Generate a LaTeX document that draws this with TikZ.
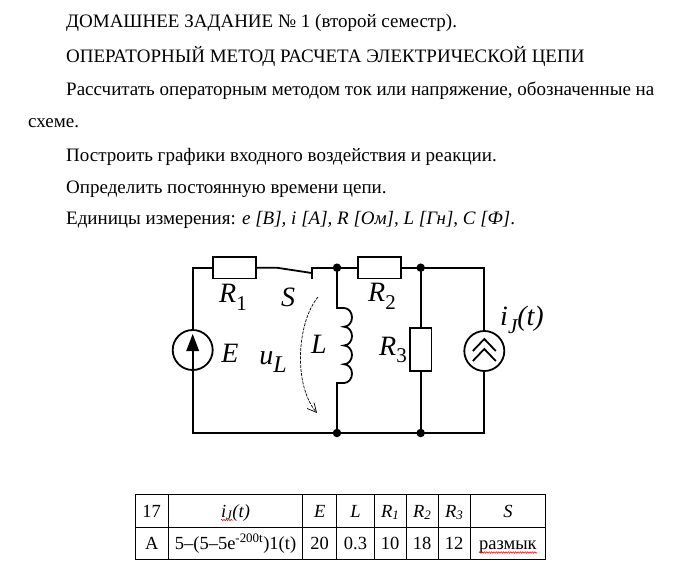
\documentclass[tikz,border=0pt]{standalone}
\usepackage{fontspec}
\setmainfont{Liberation Serif}
\usetikzlibrary{arrows.meta,decorations.pathmorphing}
\newcommand\lsub[1]{\raisebox{-0.28em}{\fontsize{21}{23}\selectfont #1}}
\begin{document}
\begin{tikzpicture}[x=1pt,y=-1pt,
  wire/.style={line width=1.8pt},
  res/.style={draw,line width=1.8pt,rectangle,inner sep=0pt,minimum width=43pt,minimum height=21.6pt,fill=white},
  vres/.style={res,minimum width=21.6pt,minimum height=43pt},
  src/.style={draw,line width=1.8pt,circle,minimum size=40pt,inner sep=0pt},
  dotn/.style={circle,fill=black,inner sep=0pt,minimum size=8.5pt},
  lbl/.style={font=\fontsize{28}{30}\selectfont\itshape,inner sep=0pt},
  txt/.style={font=\fontsize{19}{21}\selectfont,anchor=base west,inner sep=0pt},
  cell/.style={font=\fontsize{18.5}{20}\selectfont,inner sep=0pt,anchor=base},
  tline/.style={line width=0.9pt},
  wavy/.style={red,line width=0.5pt,decorate,decoration={snake,amplitude=0.8pt,segment length=2.4pt}},
  ularrow/.style={line width=0.7pt,dash pattern=on 3pt off 1.2pt,-{Straight Barb[length=9pt,width=9pt]}}
]
\useasboundingbox (0,0) rectangle (692,564);
\fill[white] (0,0) rectangle (692,564);

% text
\node[txt] (t1) at (66,28) {ДОМАШНЕЕ ЗАДАНИЕ № 1 (второй семестр).};
\node[txt] (t2) at (66,63) {ОПЕРАТОРНЫЙ МЕТОД РАСЧЕТА ЭЛЕКТРИЧЕСКОЙ ЦЕПИ};
\node[txt] (t3) at (66,96) {Рассчитать операторным методом ток или напряжение, обозначенные на};
\node[txt] (t4) at (28,128) {схеме.};
\node[txt] (t5) at (66,161) {Построить графики входного воздействия и реакции.};
\node[txt] (t6) at (66,193) {Определить постоянную времени цепи.};
\node[txt] (t7) at (66,224) {Единицы измерения: \textit{e [В], i [А], R [Ом], L [Гн], C [Ф]}.};

% circuit
\coordinate (TL) at (192.7,267.7);
\coordinate (BL) at (192.7,433);
\coordinate (TR) at (484.3,267.7);
\coordinate (BR) at (484.3,433);
\coordinate (swA) at (276.7,267.7);
\coordinate (swB) at (311.7,273);
\coordinate (swC) at (311.7,267.7);
\coordinate (swD) at (311.7,278.5);
\coordinate (Lt) at (337,308);
\coordinate (Lb) at (337,383);
\node[res] (R1) at (234.2,267.7) {};
\node[res] (R2) at (379.7,267.7) {};
\node[vres] (R3) at (420.7,349.7) {};
\node[src] (E) at (192.7,350) {};
\node[src] (J) at (484.3,351) {};
\node[dotn] (N1) at (337,267.7) {};
\node[dotn] (N2) at (420.7,267.7) {};
\node[dotn] (N3) at (337,433) {};
\node[dotn] (N4) at (420.7,433) {};

\draw[wire] (E.north) -- (TL) -- (R1.west);
\draw[wire] (R1.east) -- (swA) -- (swB);
\draw[wire] (swD) -- (swC) -- (N1.center) -- (R2.west);
\draw[wire] (R2.east) -- (N2.center) -- (TR) -- (J.north);
\draw[wire] (J.south) -- (BR) -- (N4.center) -- (N3.center) -- (BL) -- (E.south);
\draw[wire] (N2.center) -- (R3.north);
\draw[wire] (R3.south) -- (N4.center);
\draw[wire] (N1.center) -- (Lt) -- ++(7,0)
  arc[start angle=-90,end angle=90,x radius=8,y radius=9.375]
  arc[start angle=-90,end angle=90,x radius=8,y radius=9.375]
  arc[start angle=-90,end angle=90,x radius=8,y radius=9.375]
  arc[start angle=-90,end angle=90,x radius=8,y radius=9.375]
  -- (Lb) -- (N3.center);

\begin{scope}[shift={(E.center)}]
  \draw[wire] (0,20) -- (0,0);
  \fill (0,-16) -- (6.5,1) -- (-6.5,1) -- cycle;
\end{scope}
\begin{scope}[shift={(J.center)}]
  \draw[wire] (-11.5,0) -- (0,-12) -- (11.5,0);
  \draw[wire] (-11.5,10) -- (0,-2) -- (11.5,10);
\end{scope}

\coordinate (uA) at (318,297);
\coordinate (uB) at (317,413);
\draw[ularrow] (uA) .. controls (297,322) and (293,385) .. (uB);

\node[lbl] (lR1) at (233,297) {R\lsub{\upshape 1}};
\node[lbl] (lS) at (288,297) {S};
\node[lbl] (lE) at (230,353) {E};
\node[lbl] (lu) at (273,362) {u\raisebox{-0.3em}{\fontsize{24}{26}\selectfont L}};
\node[lbl] (lL) at (319,344) {L};
\node[lbl] (lR2) at (382,296) {R\lsub{\upshape 2}};
\node[lbl] (lR3) at (393,350) {R\lsub{\upshape 3}};
\node[lbl] (lJ) at (522,320) {i\lsub{J}(t)};

% table
\draw[tline] (135,494.7) rectangle (545.7,559);
\draw[tline] (135,527.3) -- (545.7,527.3);
\foreach \x in {168.3,302.7,336.7,374.3,406,438.3,470} \draw[tline] (\x,494.7) -- (\x,559);

\node[cell] (h1) at (151.7,517) {17};
\node[cell] (h2) at (235.5,517) {\itshape i\textsubscript{J}(t)};
\node[cell] (h3) at (319.7,517) {\itshape E};
\node[cell] (h4) at (355.5,517) {\itshape L};
\node[cell] (h5) at (390.2,517) {\itshape R\textsubscript{1}};
\node[cell] (h6) at (422.2,517) {\itshape R\textsubscript{2}};
\node[cell] (h7) at (454.2,517) {\itshape R\textsubscript{3}};
\node[cell] (h8) at (507.9,517) {\itshape S};
\node[cell] (v1) at (151.7,549) {A};
\node[cell] (v2) at (235.5,549) {5–(5–5e\textsuperscript{-200t})1(t)};
\node[cell] (v3) at (319.7,549) {20};
\node[cell] (v4) at (355.5,549) {0.3};
\node[cell] (v5) at (390.2,549) {10};
\node[cell] (v6) at (422.2,549) {18};
\node[cell] (v7) at (454.2,549) {12};
\node[cell] (v8) at (507.9,549) {размык};
\draw[wavy] ([yshift=-3pt]h2.base west) -- ++(12,0);
\draw[wavy] ([yshift=-3.5pt]v8.base west) -- ([yshift=-3.5pt]v8.base east);
\end{tikzpicture}
\end{document}
